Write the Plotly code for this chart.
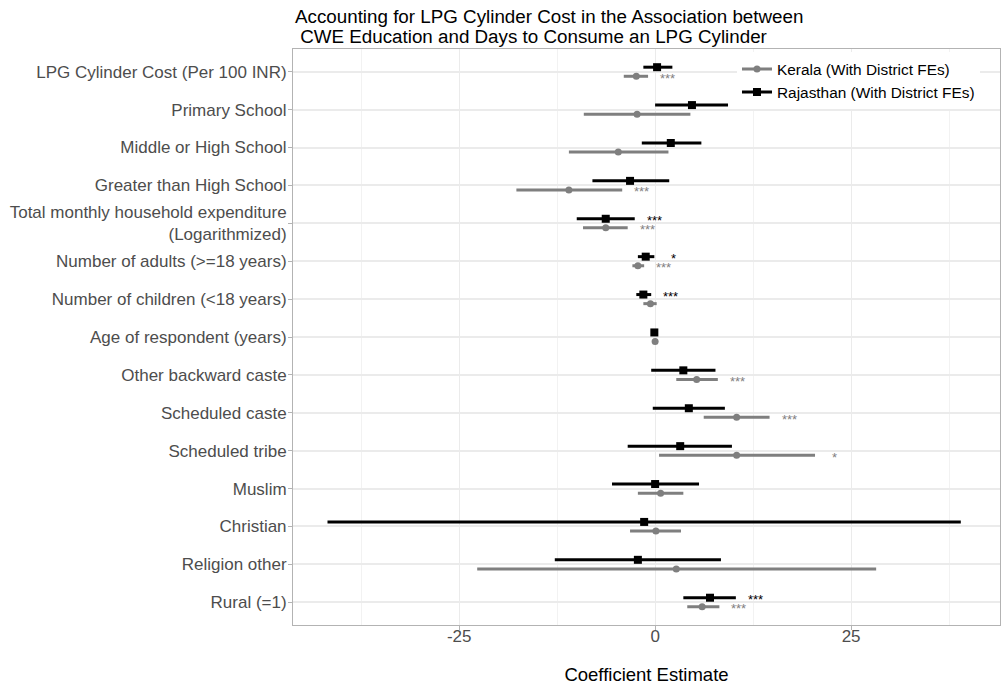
import plotly.graph_objects as go

# Covariates, top to bottom
labels = [
    "LPG Cylinder Cost (Per 100 INR)",
    "Primary School",
    "Middle or High School",
    "Greater than High School",
    "Total monthly household expenditure<br>(Logarithmized)",
    "Number of adults (>=18 years)",
    "Number of children (<18 years)",
    "Age of respondent (years)",
    "Other backward caste",
    "Scheduled caste",
    "Scheduled tribe",
    "Muslim",
    "Christian",
    "Religion other",
    "Rural (=1)",
]

# Kerala (With District FEs): estimate, 95% CI, significance stars
kerala_est = [-2.4, -2.3, -4.7, -11.0, -6.3, -2.2, -0.6, 0.0, 5.3, 10.4, 10.4, 0.7, 0.1, 2.7, 6.0]
kerala_lo = [-4.0, -9.1, -11.0, -17.7, -9.2, -2.9, -1.5, -0.05, 2.7, 6.2, 0.5, -2.2, -3.2, -22.7, 4.1]
kerala_hi = [-0.9, 4.5, 1.7, -4.2, -3.5, -1.4, 0.2, 0.05, 8.0, 14.6, 20.4, 3.6, 3.3, 28.2, 8.2]
kerala_sig = ["***", "", "", "***", "***", "***", "", "", "***", "***", "*", "", "", "", "***"]

# Rajasthan (With District FEs)
raj_est = [0.25, 4.7, 2.0, -3.2, -6.3, -1.2, -1.5, -0.1, 3.6, 4.3, 3.2, 0.0, -1.4, -2.2, 7.0]
raj_lo = [-1.5, 0.0, -1.7, -8.0, -10.0, -2.2, -2.4, -0.15, -0.5, -0.3, -3.5, -5.5, -41.8, -12.8, 3.6]
raj_hi = [2.2, 9.3, 5.9, 1.8, -2.6, -0.1, -0.5, -0.05, 7.7, 8.9, 9.8, 5.6, 39.0, 8.4, 10.3]
raj_sig = ["", "", "", "", "***", "*", "***", "", "", "", "", "", "", "", "***"]

x_ticks = [-25, 0, 25]

title_lines = [
    "Accounting for LPG Cylinder Cost in the Association between",
    " CWE Education and Days to Consume an LPG Cylinder",
]

GREY = "#7F7F7F"
BLACK = "#000000"
DODGE = 0.12
STAR_GAP = 2.5
FONT = "Liberation Sans, Arial, sans-serif"

fig = go.Figure()


def add_series(name, est, lo, hi, sig, color, symbol, msize, lwidth, shift):
    rows = [i + shift for i in range(len(est))]
    xs, ys = [], []
    for r, a, b in zip(rows, lo, hi):
        xs += [a, b, None]
        ys += [r, r, None]
    # confidence intervals
    fig.add_trace(go.Scatter(x=xs, y=ys, mode="lines",
                             line=dict(color=color, width=lwidth),
                             showlegend=False, hoverinfo="skip"))
    # point estimates
    fig.add_trace(go.Scatter(x=est, y=rows, mode="markers",
                             marker=dict(color=color, symbol=symbol, size=msize),
                             showlegend=False))
    # significance stars to the right of each interval
    for r, b, s in zip(rows, hi, sig):
        if s:
            fig.add_annotation(x=b + STAR_GAP, y=r, text=s, showarrow=False,
                               xanchor="center", yanchor="middle", yshift=-2,
                               font=dict(color=color, size=13, family=FONT))
    # legend key
    fig.add_trace(go.Scatter(x=[None], y=[None], mode="lines+markers", name=name,
                             line=dict(color=color, width=lwidth),
                             marker=dict(color=color, symbol=symbol, size=msize)))


add_series("Kerala (With District FEs)", kerala_est, kerala_lo, kerala_hi,
           kerala_sig, GREY, "circle", 7, 3, DODGE)
add_series("Rajasthan (With District FEs)", raj_est, raj_lo, raj_hi,
           raj_sig, BLACK, "square", 8, 3, -DODGE)

# two-line title, set with tight line spacing
for k, line in enumerate(title_lines):
    fig.add_annotation(
        text=line, showarrow=False,
        xref="paper", x=0, xanchor="left",
        yref="paper", y=1 + (32 - 19 * k) / 576, yanchor="middle",
        font=dict(size=18.8, color="black", family=FONT),
    )

fig.update_layout(
    width=1001, height=685,
    margin=dict(l=293, r=1, t=49, b=60),
    paper_bgcolor="white", plot_bgcolor="white",
    font=dict(family=FONT, color="black"),
    legend=dict(
        x=0.628, y=0.994, xanchor="left", yanchor="top",
        bgcolor="white", font=dict(size=15.4, color="black"),
        traceorder="normal", itemwidth=30, borderwidth=0,
        tracegroupgap=0,
    ),
    showlegend=True,
)

fig.update_xaxes(
    range=[-46.2, 44.0],
    tickvals=x_ticks, ticktext=[str(v) for v in x_ticks],
    tickfont=dict(size=17, color="#4D4D4D"),
    ticks="outside", ticklen=4, tickcolor="#B3B3B3",
    ticklabelstandoff=-8,
    showgrid=True, gridcolor="#EBEBEB", gridwidth=1,
    minor=dict(dtick=12.5, tick0=12.5, showgrid=True, gridcolor="#F2F2F2", gridwidth=1),
    zeroline=False,
    showline=True, mirror=True, linecolor="#B3B3B3", linewidth=1,
    title=dict(text="Coefficient Estimate", font=dict(size=18.5, color="black"), standoff=22),
)

fig.update_yaxes(
    range=[len(labels) - 0.4, -0.6],
    tickvals=list(range(len(labels))), ticktext=labels,
    tickfont=dict(size=17, color="#4D4D4D"),
    ticks="outside", ticklen=4, tickcolor="#B3B3B3",
    ticklabelstandoff=-2,
    showgrid=True, gridcolor="#EBEBEB", gridwidth=1.5,
    zeroline=False,
    showline=True, mirror=True, linecolor="#B3B3B3", linewidth=1,
)

fig.write_html("out.html")
